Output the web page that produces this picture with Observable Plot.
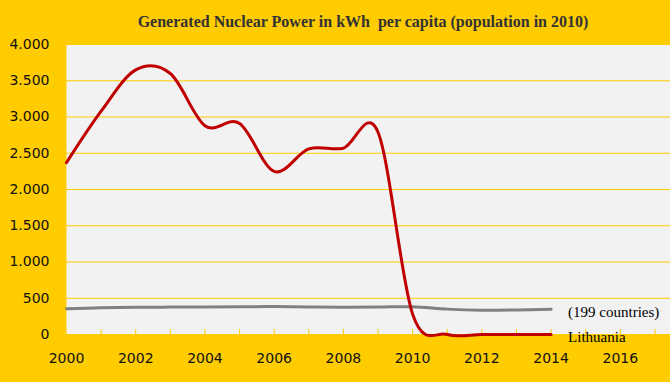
<!DOCTYPE html>
<html>
<head>
<meta charset="utf-8">
<script src="https://cdn.jsdelivr.net/npm/d3@7"></script>
<script src="https://cdn.jsdelivr.net/npm/@observablehq/plot@0.6"></script>
<style>
  html, body { margin: 0; padding: 0; background: #FFCC00; }
  #wrap { position: relative; width: 670px; height: 382px; background: #FFCC00; overflow: hidden; }
  #title {
    position: absolute; left: 363px; top: 13px; transform: translateX(-50%);
    font-family: "Liberation Serif", serif; font-weight: bold; font-size: 16px;
    line-height: 18px; color: #333333; white-space: pre; z-index: 2;
  }
  #chart svg { display: block; }
</style>
</head>
<body>
<div id="wrap">
  <div id="chart"></div>
  <div id="title">Generated Nuclear Power in kWh  per capita (population in 2010)</div>
</div>
<script>
const years = [2000, 2001, 2002, 2003, 2004, 2005, 2006, 2007, 2008, 2009, 2010, 2011, 2012, 2013, 2014];
const lithuania = [2370, 3080, 3650, 3600, 2880, 2910, 2250, 2560, 2570, 2790, 280, 0, 0, 0, 0];
const world = [355, 368, 375, 378, 380, 382, 385, 380, 376, 378, 383, 350, 335, 338, 348];
const seriesNames = ["(199 countries)", "Lithuania"];
const yTicks = [0, 500, 1000, 1500, 2000, 2500, 3000, 3500, 4000];
const xLabels = [2000, 2002, 2004, 2006, 2008, 2010, 2012, 2014, 2016];
const xMinor = [2001, 2002, 2003, 2004, 2005, 2006, 2007, 2008, 2009, 2010, 2011, 2012, 2013, 2014, 2015, 2016, 2017];

const lithData = years.map((y, i) => ({year: y, value: lithuania[i]}));
const worldData = years.map((y, i) => ({year: y, value: world[i]}));
const last = years.length - 1;
const labelData = [
  {year: years[last], value: world[last], name: seriesNames[0]},
  {year: years[last], value: lithuania[last], name: seriesNames[1]}
];

const fmt = d3.formatLocale({decimal: ",", thousands: ".", grouping: [3]}).format(",");
const gold = "#FFCC00";

const chart = Plot.plot({
  width: 670,
  height: 382,
  marginLeft: 66,
  marginRight: 0,
  marginTop: 44,
  marginBottom: 48,
  style: {background: "transparent", fontFamily: "'DejaVu Sans', sans-serif", fontSize: "14px", color: "#111"},
  x: {domain: [2000, 2017.45], label: null},
  y: {domain: [0, 4000], label: null},
  marks: [
    Plot.frame({fill: "#F2F2F2", stroke: null}),
    Plot.gridY({ticks: yTicks, stroke: gold, strokeOpacity: 1, strokeWidth: 1}),
    Plot.axisY({ticks: yTicks, tickSize: 0, tickPadding: 17, tickFormat: fmt, fontSize: 14}),
    Plot.axisX({ticks: xMinor, tickSize: -5, stroke: gold, strokeOpacity: 1, tickFormat: () => ""}),
    Plot.axisX({ticks: xLabels, tickSize: 0, tickPadding: 19, tickFormat: d => String(d), fontSize: 14}),
    Plot.line(worldData, {x: "year", y: "value", stroke: "#808080", strokeWidth: 3, curve: "cardinal"}),
    Plot.line(lithData, {x: "year", y: "value", stroke: "#C00000", strokeWidth: 3, curve: "cardinal"}),
    Plot.text(labelData, {x: "year", y: "value", text: "name", textAnchor: "start", dx: 17, dy: 3,
      fontFamily: "'Liberation Serif', serif", fontSize: 15, fill: "#000"})
  ]
});
document.getElementById("chart").appendChild(chart);
</script>
</body>
</html>
